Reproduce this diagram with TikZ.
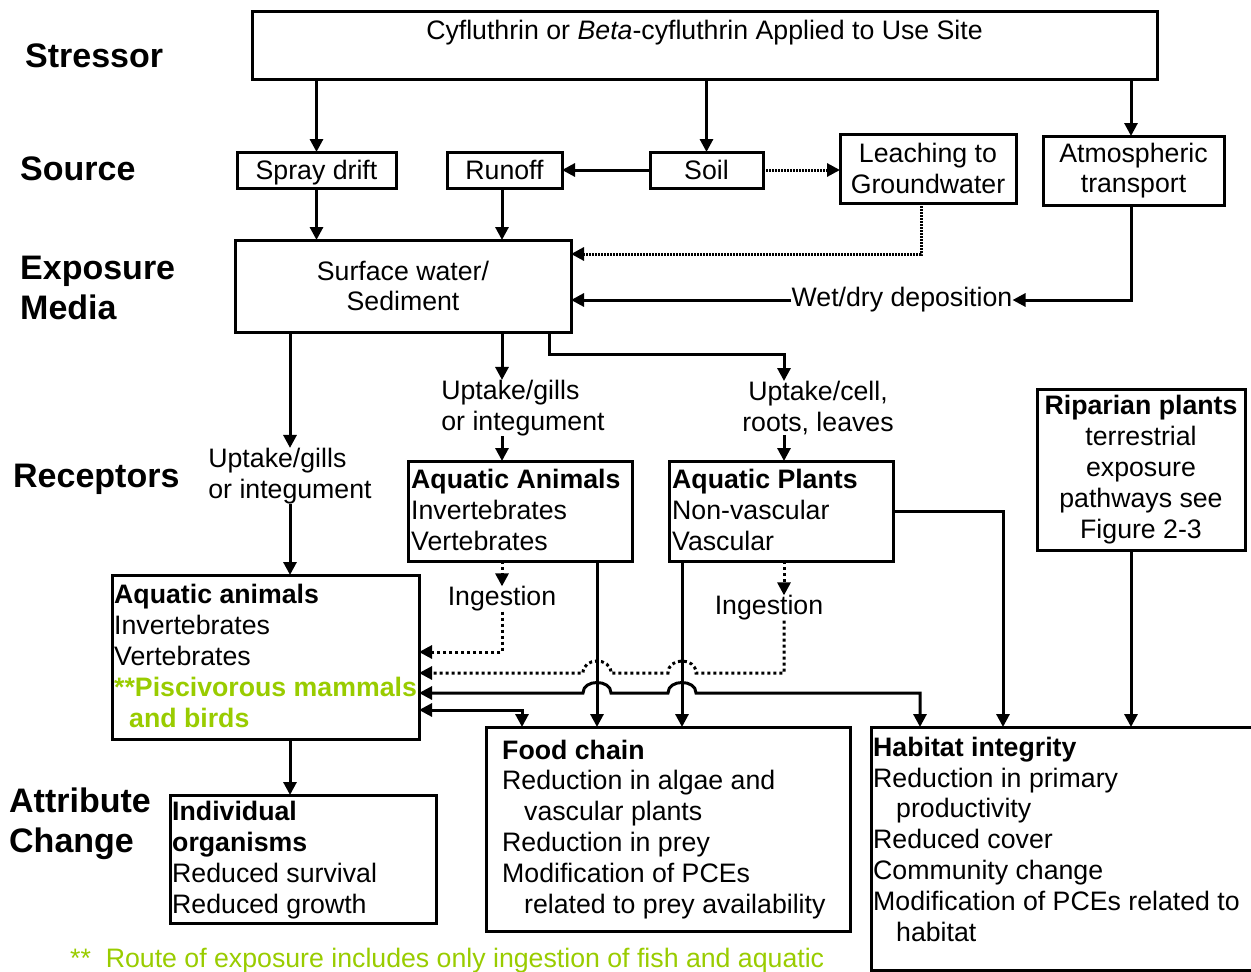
\documentclass[tikz,border=0pt]{standalone}
\usepackage{fontspec}
\setmainfont{Liberation Sans}
\usetikzlibrary{arrows.meta,calc}
\definecolor{pgreen}{RGB}{153,204,0}
\tikzset{
 box/.style={draw, line width=3pt, inner sep=0pt, outer sep=0pt, align=center, font=\fontsize{26.7}{30.8}\selectfont},
 one/.style={text height=19pt, text depth=0pt},
 txt/.style={inner sep=0pt, font=\fontsize{26.7}{30.8}\selectfont},
 hdr/.style={inner sep=0pt, font=\fontsize{34}{40}\selectfont\bfseries, align=left},
 conn/.style={line width=3pt},
 arr/.style={conn, -{Triangle[length=13pt,width=13pt]}},
 darr/.style={conn, {Triangle[length=13pt,width=13pt]}-{Triangle[length=13pt,width=13pt]}},
 dotarr/.style={arr, dash pattern=on 3pt off 3pt},
 dense/.style={arr, dash pattern=on 2pt off 1pt},
}
\begin{document}
\begin{tikzpicture}[x=1pt,y=-1pt]
\useasboundingbox (0,0) rectangle (1251,972);

% headers (base = baseline of last line)
\node[hdr, anchor=base west] (hStress) at (25,67) {Stressor};
\node[hdr, anchor=base west] (hSource) at (20,180) {Source};
\node[hdr, anchor=base west] (hExpo) at (20,319) {Exposure\\Media};
\node[hdr, anchor=base west] (hRec) at (13,487) {Receptors};
\node[hdr, anchor=base west] (hAttr) at (9,852) {Attribute\\Change};

% boxes
\node[box, minimum width=905pt, minimum height=68pt] (stress) at (704.5,45) {};
\node[txt, anchor=base] (stressT) at (704.5,39) {Cyfluthrin or \textit{Beta}-cyfluthrin Applied to Use Site};
\node[box, one, minimum width=159pt, minimum height=36pt] (spray) at (316.5,170) {Spray drift};
\node[box, one, minimum width=115pt, minimum height=36pt] (runoff) at (504.5,170) {Runoff};
\node[box, one, minimum width=113pt, minimum height=36pt] (soil) at (706.5,170) {Soil};
\node[box, minimum width=176pt, minimum height=69pt] (leach) at (928,168.5) {Leaching to\\Groundwater};
\node[box, minimum width=181pt, minimum height=69pt] (atmos) at (1133.5,170.5) {Atmospheric\\transport};
\node[box, minimum width=336pt, minimum height=92pt] (sw) at (403,286) {Surface water/\\Sediment};
\node[box, minimum width=208pt, minimum height=161pt] (ripar) at (1141,469.5) {\textbf{Riparian plants}\\terrestrial\\exposure\\pathways see\\Figure 2-3};
\node[box, minimum width=224pt, minimum height=100pt] (aqa) at (520,511) {};
\node[box, minimum width=224pt, minimum height=100pt] (aqp) at (781,511) {};
\node[box, minimum width=307pt, minimum height=164pt] (aql) at (265.5,657) {};
\node[box, minimum width=266pt, minimum height=128pt] (indiv) at (303,859) {};
\node[box, minimum width=364pt, minimum height=204pt] (food) at (668,829) {};
\node[box, minimum width=391pt, minimum height=243pt] (hab) at (1066.5,848.5) {};

% box texts (base = baseline of last line)
\node[txt, align=left, anchor=base west] (aqaT) at (411,550) {\textbf{Aquatic Animals}\\Invertebrates\\Vertebrates};
\node[txt, align=left, anchor=base west] (aqpT) at (672,550) {\textbf{Aquatic Plants}\\Non-vascular\\Vascular};
\node[txt, align=left, anchor=base west] (aqlT) at (114,727) {\textbf{Aquatic animals}\\Invertebrates\\Vertebrates\\\textcolor{pgreen}{\textbf{**Piscivorous mammals}}\\\textcolor{pgreen}{\hspace*{15pt}\textbf{and birds}}};
\node[txt, align=left, anchor=base west] (indivT) at (172,913) {\textbf{Individual}\\\textbf{organisms}\\Reduced survival\\Reduced growth};
\node[txt, align=left, anchor=base west] (foodT) at (502,913) {\textbf{Food chain}\\Reduction in algae and\\\hspace*{22pt}vascular plants\\Reduction in prey\\Modification of PCEs\\\hspace*{22pt}related to prey availability};
\node[txt, align=left, anchor=base west] (habT) at (873,941) {\textbf{Habitat integrity}\\Reduction in primary\\\hspace*{23pt}productivity\\Reduced cover\\Community change\\Modification of PCEs related to\\\hspace*{23pt}habitat};

% floating labels
\node[txt] (wetdry) at (902,300) {Wet/dry deposition};
\node[txt, align=left] (upt1) at (290,476) {Uptake/gills\\or integument};
\node[txt, align=left] (upt2) at (523,408) {Uptake/gills\\or integument};
\node[txt, align=center] (upt3) at (818,408) {Uptake/cell,\\roots, leaves};
\node[txt] (ing1) at (502,599) {Ingestion};
\node[txt] (ing2) at (769,608) {Ingestion};
\node[txt, anchor=base west, text=pgreen] (note) at (70,967) {**\ \ Route of exposure includes only ingestion of fish and aquatic};

% routing coordinates
\coordinate (xA) at (502,0);
\coordinate (xB) at (784,0);
\coordinate (xC) at (549,0);
\coordinate (xF) at (597,0);
\coordinate (xG) at (682,0);
\coordinate (xH) at (1003,0);
\coordinate (xI) at (920,0);
\coordinate (xJ) at (522,0);
\coordinate (xK) at (1131,0);
\coordinate (xL) at (290,0);
\coordinate (xM) at (921,0);
\coordinate (yA) at (0,254);
\coordinate (yB) at (0,354);
\coordinate (yC) at (0,652);
\coordinate (yD) at (0,673);
\coordinate (yE) at (0,693);
\coordinate (yF) at (0,710);

% connectors
\draw[arr] (stress.south -| spray) -- (spray.north);
\draw[arr] (stress.south -| soil) -- (soil.north);
\draw[arr] (stress.south -| xK) -- (atmos.north -| xK);
\draw[arr] (soil.west) -- (runoff.east);
\draw[dense] (soil.east) -- (leach.west |- soil.east);
\draw[arr] (spray.south) -- (sw.north -| spray.south);
\draw[arr] (runoff.south -| xA) -- (sw.north -| xA);
\draw[dense] (leach.south -| xM) |- (sw.east |- yA);
\draw[arr] (atmos.south -| xK) |- (wetdry.east);
\draw[arr] (wetdry.west) -- (sw.east |- wetdry.west);
\draw[arr] (sw.south -| xL) -- (upt1.north -| xL);
\draw[arr] (upt1.south -| xL) -- (aql.north -| xL);
\draw[arr] (sw.south -| xA) -- (upt2.north -| xA);
\draw[arr] (upt2.south -| xA) -- (aqa.north -| xA);
\draw[arr] (sw.south -| xC) |- (xB |- yB) -- (upt3.north -| xB);
\draw[arr] (upt3.south -| xB) -- (aqp.north -| xB);
\draw[arr] (ripar.south -| xK) -- (hab.north -| xK);
\draw[arr] (aql.south -| xL) -- (indiv.north -| xL);
\draw[dotarr] (aqa.south -| xA) -- (ing1.north -| xA);
\draw[dotarr] (ing1.south -| xA) |- (aql.east |- yC);
\draw[dotarr] (aqp.south -| xB) -- (ing2.north -| xB);
\draw[dotarr] (ing2.south -| xB) |- ([xshift=14pt]xG |- yD) .. controls +(0,-16) and +(0,-16) .. ([xshift=-14pt]xG |- yD) -- ([xshift=14pt]xF |- yD) .. controls +(0,-16) and +(0,-16) .. ([xshift=-14pt]xF |- yD) -- (aql.east |- yD);
\draw[arr] (aqa.south -| xF) -- (food.north -| xF);
\draw[arr] (aqp.south -| xG) -- (food.north -| xG);
\draw[arr] (aqp.east) -| (hab.north -| xH);
\draw[darr] (aql.east |- yE) -- ([xshift=-14pt]xF |- yE) .. controls +(0,-14) and +(0,-14) .. ([xshift=14pt]xF |- yE) -- ([xshift=-14pt]xG |- yE) .. controls +(0,-14) and +(0,-14) .. ([xshift=14pt]xG |- yE) -- (xI |- yE) -- (hab.north -| xI);
\draw[darr] (aql.east |- yF) -| (food.north -| xJ);
\end{tikzpicture}
\end{document}
